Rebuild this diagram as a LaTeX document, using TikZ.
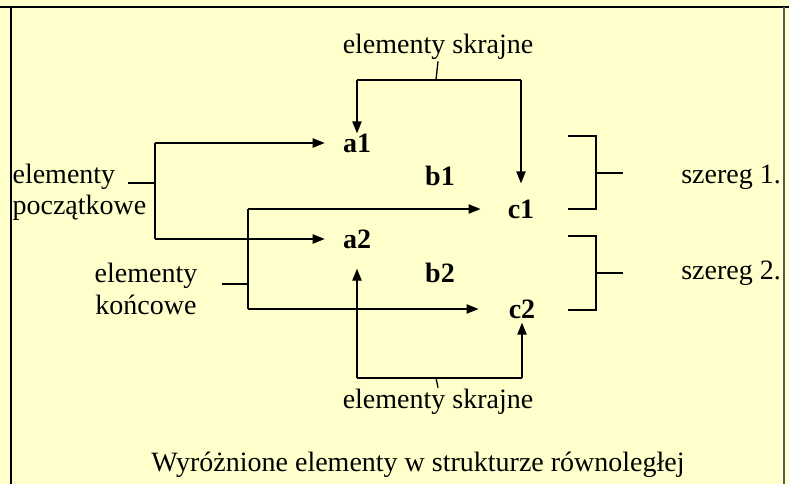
\documentclass[tikz,border=0pt]{standalone}
\usepackage{fontspec}
\setmainfont{Liberation Serif}
\usetikzlibrary{arrows.meta}
\definecolor{tlo}{HTML}{FFFFCC}
\tikzset{
	txt/.style={font=\fontsize{21}{23.5}\selectfont, inner sep=1pt},
	lbl/.style={font=\fontsize{21}{23.5}\selectfont\bfseries, inner sep=0pt},
	brk/.style={line width=1.5pt},
	arr/.style={line width=1pt, -{Triangle[length=9pt,width=7pt]}},
}
\begin{document}
\begin{tikzpicture}[x=0.75pt,y=-0.75pt]
	\fill[tlo] (0,0) rectangle (789,484);
	\useasboundingbox (0,0) rectangle (789,484);
	\draw[line width=1.2pt] (0,7) -- (789,7);
	\draw[line width=1.2pt] (11,7) -- (11,484);
	\draw[line width=1.2pt, black!65] (784,7) -- (784,484);

	% elementy
	\node[lbl] (a1) at (357,143) {a1};
	\node[lbl] (b1) at (440,176) {b1};
	\node[lbl] (c1) at (521,209) {c1};
	\node[lbl] (a2) at (357,239) {a2};
	\node[lbl] (b2) at (440,273) {b2};
	\node[lbl] (c2) at (522,309) {c2};

	% opisy
	\node[txt] (skrTop) at (438,47) {elementy skrajne};
	\node[txt] (skrBot) at (438,402) {elementy skrajne};
	\node[txt, align=left, anchor=west] (pocz) at (11,192) {elementy\\początkowe};
	\node[txt, align=center] (konc) at (146,289) {elementy\\końcowe};
	\node[txt] (szer1) at (731,177) {szereg 1.};
	\node[txt] (szer2) at (731,273) {szereg 2.};
	\node[txt] (podpis) at (418,465) {Wyróżnione elementy w strukturze równoległej};

	% punkty wezlowe
	\coordinate (sT) at (436,80);
	\coordinate (sB) at (436,378);
	\coordinate (jP) at (155,183);
	\coordinate (jK) at (248,284);
	\coordinate (r1) at (596,173);
	\coordinate (r2) at (596,273);

	% elementy skrajne (gora)
	\draw[line width=1pt] (skrTop.south) -- (sT);
	\draw[brk] (a1.north |- sT) -- (c1.north |- sT);
	\draw[arr] (a1.north |- sT) -- (a1.north);
	\draw[arr, shorten >=16pt*0.75] (c1.north |- sT) -- (c1.north);

	% elementy skrajne (dol)
	\draw[line width=1pt] (skrBot.north) -- (sB);
	\draw[brk] (a2.south |- sB) -- (c2.south |- sB);
	\draw[arr, shorten >=20*0.75pt] (a2.south |- sB) -- (a2.south);
	\draw[arr, shorten >=4*0.75pt] (c2.south |- sB) -- (c2.south);

	% elementy poczatkowe
	\draw[brk] ([xshift=-27*0.75pt]jP) -- (jP);
	\draw[brk] (jP |- a1) -- (jP |- a2);
	\draw[arr, shorten >=18*0.75pt] (jP |- a1) -- (a1.west);
	\draw[arr, shorten >=18*0.75pt] (jP |- a2) -- (a2.west);

	% elementy koncowe
	\draw[brk] ([xshift=-26*0.75pt]jK) -- (jK);
	\draw[brk] (jK |- c1) -- (jK |- c2);
	\draw[arr, shorten >=27*0.75pt] (jK |- c1) -- (c1.west);
	\draw[arr, shorten >=30*0.75pt] (jK |- c2) -- (c2.west);

	% szeregi
	\draw[brk] (568,136) -| (596,209) -- (568,209);
	\draw[brk] (r1) -- ++(27,0);
	\draw[brk] (568,236) -| (596,310) -- (568,310);
	\draw[brk] (r2) -- ++(27,0);
\end{tikzpicture}
\end{document}
